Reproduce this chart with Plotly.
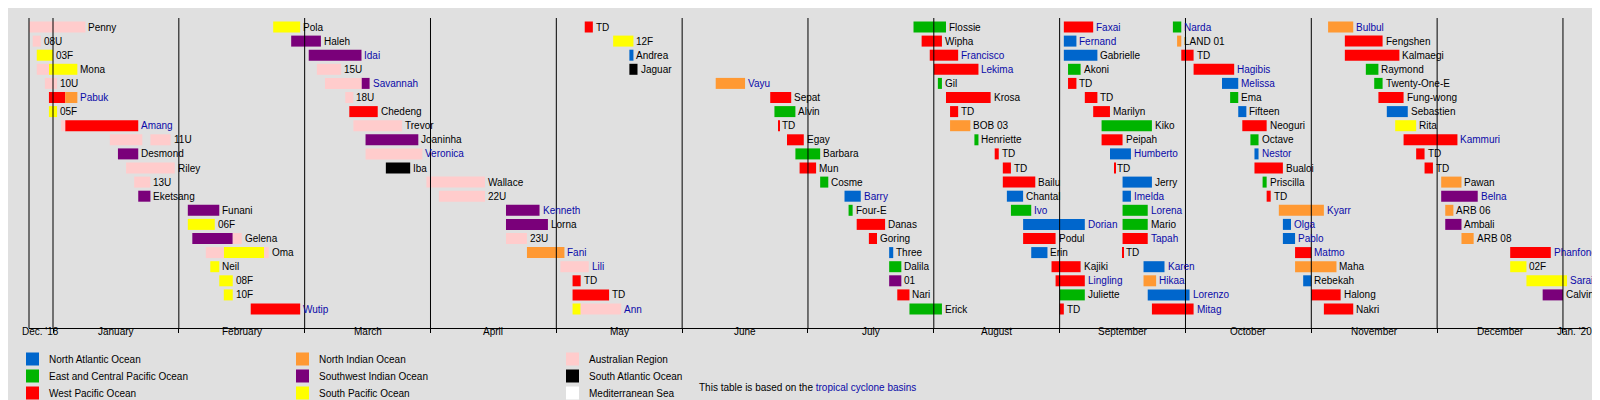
import calendar
import plotly.graph_objects as go

# one entry per bar segment; "" = continuation segment without its own label
names = [
    # row 0
    "Penny", "Pola", "TD", "Flossie", "Faxai", "Narda", "Bulbul",
    # row 1
    "08U", "Haleh", "12F", "Wipha", "Fernand", "LAND 01", "Fengshen",
    # row 2
    "03F", "Idai", "Andrea", "Francisco", "Gabrielle", "TD", "Kalmaegi",
    # row 3
    "", "Mona", "15U", "Jaguar", "Lekima", "Akoni", "Hagibis", "Raymond",
    # row 4
    "10U", "", "Savannah", "Vayu", "Gil", "TD", "Melissa", "Twenty-One-E",
    # row 5
    "", "Pabuk", "18U", "Sepat", "Krosa", "TD", "Ema", "Fung-wong",
    # row 6
    "05F", "Chedeng", "Alvin", "TD", "Marilyn", "Fifteen", "Sebastien",
    # row 7
    "", "Amang", "Trevor", "TD", "BOB 03", "Kiko", "Neoguri", "Rita",
    # row 8
    "", "11U", "Joaninha", "Egay", "Henriette", "Peipah", "Octave", "Kammuri",
    # row 9
    "Desmond", "Veronica", "Barbara", "TD", "Humberto", "Nestor", "TD",
    # row 10
    "Riley", "Iba", "Mun", "TD", "TD", "Bualoi", "TD",
    # row 11
    "13U", "Wallace", "Cosme", "Bailu", "Jerry", "Priscilla", "Pawan",
    # row 12
    "Eketsang", "22U", "Barry", "Chantal", "Imelda", "TD", "Belna",
    # row 13
    "Funani", "Kenneth", "Four-E", "Ivo", "Lorena", "Kyarr", "ARB 06",
    # row 14
    "06F", "Lorna", "Danas", "Dorian", "Mario", "Olga", "Ambali",
    # row 15
    "", "Gelena", "23U", "Goring", "Podul", "Tapah", "Pablo", "ARB 08",
    # row 16
    "", "", "Oma", "Fani", "Three", "Erin", "TD", "Matmo", "Phanfone",
    # row 17
    "Neil", "Lili", "Dalila", "Kajiki", "Karen", "Maha", "02F",
    # row 18
    "08F", "TD", "01", "Lingling", "Hikaa", "Rebekah", "Sarai",
    # row 19
    "10F", "TD", "Nari", "Juliette", "Lorenzo", "Halong", "Calvinia",
    # row 20
    "Wutip", "", "Ann", "Erick", "TD", "Mitag", "Nakri",
]
rows = ([0] * 7 + [1] * 7 + [2] * 7 + [3] * 8 + [4] * 8 + [5] * 8 + [6] * 7
        + [7] * 8 + [8] * 8 + [9] * 7 + [10] * 7 + [11] * 7 + [12] * 7 + [13] * 7
        + [14] * 7 + [15] * 8 + [16] * 9 + [17] * 7 + [18] * 7 + [19] * 7 + [20] * 7)
starts = [
    "2018-12-26", "2019-02-22", "2019-05-08", "2019-07-27", "2019-09-02", "2019-09-28", "2019-11-05",
    "2018-12-27", "2019-02-26", "2019-05-15", "2019-07-29", "2019-09-02", "2019-09-29", "2019-11-09",
    "2018-12-28", "2019-03-02", "2019-05-19", "2019-07-31", "2019-09-02", "2019-09-30", "2019-11-09",
    "2018-12-28", "2018-12-31", "2019-03-04", "2019-05-19", "2019-08-01", "2019-09-03", "2019-10-03", "2019-11-14",
    "2018-12-30", "2019-03-06", "2019-03-15", "2019-06-09", "2019-08-02", "2019-09-03", "2019-10-10", "2019-11-16",
    "2018-12-31", "2019-01-04", "2019-03-11", "2019-06-22", "2019-08-04", "2019-09-07", "2019-10-12", "2019-11-17",
    "2018-12-31", "2019-03-12", "2019-06-23", "2019-08-05", "2019-09-09", "2019-10-14", "2019-11-19",
    "2019-01-03", "2019-01-04", "2019-03-13", "2019-06-24", "2019-08-05", "2019-09-11", "2019-10-15", "2019-11-21",
    "2019-01-15", "2019-01-25", "2019-03-16", "2019-06-26", "2019-08-11", "2019-09-11", "2019-10-17", "2019-11-23",
    "2019-01-17", "2019-03-16", "2019-06-28", "2019-08-16", "2019-09-13", "2019-10-18", "2019-11-26",
    "2019-01-19", "2019-03-21", "2019-06-29", "2019-08-18", "2019-09-14", "2019-10-18", "2019-11-28",
    "2019-01-21", "2019-03-31", "2019-07-04", "2019-08-18", "2019-09-16", "2019-10-20", "2019-12-02",
    "2019-01-22", "2019-04-03", "2019-07-10", "2019-08-19", "2019-09-16", "2019-10-21", "2019-12-02",
    "2019-02-03", "2019-04-19", "2019-07-11", "2019-08-20", "2019-09-16", "2019-10-24", "2019-12-03",
    "2019-02-03", "2019-04-19", "2019-07-13", "2019-08-23", "2019-09-16", "2019-10-25", "2019-12-03",
    "2019-02-04", "2019-02-13", "2019-04-19", "2019-07-16", "2019-08-23", "2019-09-16", "2019-10-25", "2019-12-07",
    "2019-02-07", "2019-02-11", "2019-02-20", "2019-04-24", "2019-07-21", "2019-08-25", "2019-09-16", "2019-10-28", "2019-12-19",
    "2019-02-08", "2019-05-02", "2019-07-21", "2019-08-30", "2019-09-21", "2019-10-28", "2019-12-19",
    "2019-02-10", "2019-05-05", "2019-07-21", "2019-08-31", "2019-09-21", "2019-10-30", "2019-12-23",
    "2019-02-11", "2019-05-05", "2019-07-23", "2019-09-01", "2019-09-22", "2019-11-01", "2019-12-27",
    "2019-02-17", "2019-05-05", "2019-05-07", "2019-07-26", "2019-09-01", "2019-09-23", "2019-11-04",
]
ends = [
    "2019-01-09", "2019-02-28", "2019-05-10", "2019-08-04", "2019-09-09", "2019-09-30", "2019-11-11",
    "2018-12-29", "2019-03-05", "2019-05-20", "2019-08-03", "2019-09-05", "2019-09-30", "2019-11-18",
    "2019-01-01", "2019-03-15", "2019-05-20", "2019-08-07", "2019-09-10", "2019-10-03", "2019-11-22",
    "2018-12-31", "2019-01-07", "2019-03-10", "2019-05-21", "2019-08-12", "2019-09-06", "2019-10-13", "2019-11-17",
    "2019-01-02", "2019-03-15", "2019-03-17", "2019-06-16", "2019-08-03", "2019-09-05", "2019-10-14", "2019-11-18",
    "2019-01-04", "2019-01-07", "2019-03-13", "2019-06-27", "2019-08-15", "2019-09-10", "2019-10-14", "2019-11-23",
    "2019-01-02", "2019-03-19", "2019-06-28", "2019-08-07", "2019-09-13", "2019-10-16", "2019-11-24",
    "2019-01-04", "2019-01-22", "2019-03-25", "2019-06-24", "2019-08-10", "2019-09-23", "2019-10-21", "2019-11-26",
    "2019-01-23", "2019-01-30", "2019-03-29", "2019-06-30", "2019-08-12", "2019-09-16", "2019-10-19", "2019-12-06",
    "2019-01-22", "2019-03-30", "2019-07-04", "2019-08-17", "2019-09-18", "2019-10-19", "2019-11-28",
    "2019-01-31", "2019-03-27", "2019-07-03", "2019-08-20", "2019-09-14", "2019-10-25", "2019-11-30",
    "2019-01-25", "2019-04-14", "2019-07-06", "2019-08-26", "2019-09-23", "2019-10-21", "2019-12-07",
    "2019-01-25", "2019-04-14", "2019-07-14", "2019-08-23", "2019-09-18", "2019-10-22", "2019-12-11",
    "2019-02-10", "2019-04-27", "2019-07-12", "2019-08-25", "2019-09-22", "2019-11-04", "2019-12-05",
    "2019-02-09", "2019-04-29", "2019-07-20", "2019-09-07", "2019-09-22", "2019-10-27", "2019-12-07",
    "2019-02-13", "2019-02-15", "2019-04-24", "2019-07-18", "2019-08-31", "2019-09-22", "2019-10-28", "2019-12-10",
    "2019-02-11", "2019-02-20", "2019-02-21", "2019-05-03", "2019-07-22", "2019-08-29", "2019-09-16", "2019-11-01", "2019-12-29",
    "2019-02-10", "2019-05-09", "2019-07-24", "2019-09-06", "2019-09-26", "2019-11-07", "2019-12-23",
    "2019-02-13", "2019-05-07", "2019-07-24", "2019-09-07", "2019-09-24", "2019-11-01", "2020-01-02",
    "2019-02-13", "2019-05-14", "2019-07-26", "2019-09-07", "2019-10-02", "2019-11-08", "2020-01-01",
    "2019-02-28", "2019-05-07", "2019-05-17", "2019-08-03", "2019-09-02", "2019-10-03", "2019-11-11",
]
basins = [
    "AUS", "SPO", "WP", "EP", "WP", "EP", "NI",
    "AUS", "SWI", "SPO", "WP", "NA", "NI", "WP",
    "SPO", "SWI", "NA", "WP", "NA", "WP", "WP",
    "AUS", "SPO", "AUS", "SATL", "WP", "EP", "WP", "EP",
    "AUS", "AUS", "SWI", "NI", "EP", "WP", "NA", "EP",
    "WP", "NI", "AUS", "WP", "WP", "WP", "EP", "WP",
    "SPO", "WP", "EP", "WP", "WP", "NA", "NA",
    "AUS", "WP", "AUS", "WP", "NI", "EP", "WP", "SPO",
    "AUS", "AUS", "SWI", "WP", "EP", "WP", "EP", "WP",
    "SWI", "AUS", "EP", "WP", "NA", "NA", "WP",
    "AUS", "SATL", "WP", "WP", "WP", "WP", "WP",
    "AUS", "AUS", "EP", "WP", "NA", "EP", "NI",
    "SWI", "AUS", "NA", "NA", "NA", "WP", "SWI",
    "SWI", "SWI", "EP", "EP", "EP", "NI", "NI",
    "SPO", "SWI", "WP", "NA", "EP", "NA", "SWI",
    "SWI", "AUS", "AUS", "WP", "WP", "WP", "NA", "NI",
    "AUS", "SPO", "AUS", "NI", "NA", "NA", "WP", "WP", "WP",
    "SPO", "AUS", "EP", "WP", "NA", "NI", "SPO",
    "SPO", "WP", "SWI", "WP", "NI", "NA", "SPO",
    "SPO", "WP", "WP", "EP", "NA", "WP", "SWI",
    "WP", "SPO", "AUS", "EP", "WP", "WP", "WP",
]
linked = ["Pabuk", "Amang", "Wutip", "Idai", "Savannah", "Veronica", "Kenneth", "Fani",
          "Lili", "Ann", "Vayu", "Barry", "Francisco", "Lekima", "Faxai", "Fernand",
          "Dorian", "Ivo", "Lingling", "Humberto", "Imelda", "Lorena", "Tapah", "Karen",
          "Hikaa", "Lorenzo", "Mitag", "Narda", "Hagibis", "Melissa", "Nestor", "Kyarr",
          "Olga", "Pablo", "Matmo", "Bulbul", "Kammuri", "Belna", "Phanfone", "Sarai"]

basin_codes = ["NA", "EP", "WP", "NI", "SWI", "SPO", "AUS", "SATL", "MED"]
basin_labels = ["North Atlantic Ocean", "East and Central Pacific Ocean", "West Pacific Ocean",
                "North Indian Ocean", "Southwest Indian Ocean", "South Pacific Ocean",
                "Australian Region", "South Atlantic Ocean", "Mediterranean Sea"]
basin_colors = ["#0066cc", "#00b400", "#ff0000", "#ff9933", "#7a007a", "#ffff00",
                "#ffcccc", "#000000", "#ffffff"]

month_names = ["January", "February", "March", "April", "May", "June", "July",
               "August", "September", "October", "November", "December"]

BG = "#e0e0e0"
LINK = "#0a0aa8"
FONT = "Liberation Sans, Arial, sans-serif"
FS = 10


def mpos(s):
    # equal-width months, like the source timeline
    y, mo, d = map(int, s.split("-"))
    nd = calendar.monthrange(y, mo)[1]
    return (y - 2019) * 12 + mo - 1 + (d - 1) / nd


# plot area in pixels
L, R, T, B = 21, 1580, 10, 320


def px(xp):
    return (xp - L) / (R - L)


def py(yp):
    return (B - yp) / (B - T)


fig = go.Figure()
for code, col in zip(basin_codes, basin_colors):
    idx = [i for i, b in enumerate(basins) if b == code]
    if not idx:
        continue
    b0 = [mpos(starts[i]) for i in idx]
    w = [max(mpos(ends[i]) - mpos(starts[i]), 0.008) for i in idx]
    fig.add_trace(go.Bar(
        y=[rows[i] for i in idx], x=w, base=b0, orientation="h", width=0.78,
        marker=dict(color=col, line=dict(width=0)), showlegend=False, hoverinfo="skip",
    ))

for n, r, e in zip(names, rows, ends):
    if not n:
        continue
    fig.add_annotation(
        x=mpos(e), y=r, text=n, showarrow=False, xanchor="left", yanchor="middle",
        xshift=1, font=dict(size=FS, color=LINK if n in linked else "black", family=FONT),
    )

# month separators
for m in range(13):
    fig.add_shape(type="line", x0=m, x1=m, y0=0, y1=1, yref="paper",
                  line=dict(color="black", width=1))
fig.add_shape(type="line", x0=0, x1=0, xref="paper", y0=0, y1=1, yref="paper",
              line=dict(color="black", width=1))

# month labels
for i, mn in enumerate(month_names):
    fig.add_annotation(x=i + 0.5, y=py(331), yref="paper", text=mn, showarrow=False,
                       font=dict(size=FS, color="black", family=FONT))
fig.add_annotation(x=-0.1, y=py(331), yref="paper", text="Dec. '18", showarrow=False,
                   font=dict(size=FS, color="black", family=FONT))
fig.add_annotation(x=12.09, y=py(331), yref="paper", text="Jan. '20", showarrow=False,
                   font=dict(size=FS, color="black", family=FONT))

# legend, three columns
col_x = [18, 288, 558]
row_y = [351, 368, 385]
for k, (lab, col) in enumerate(zip(basin_labels, basin_colors)):
    cx, ry = col_x[k // 3], row_y[k % 3]
    fig.add_shape(type="rect", xref="paper", yref="paper",
                  x0=px(cx), x1=px(cx + 13), y0=py(ry - 6.5), y1=py(ry + 6.5),
                  fillcolor=col, line=dict(width=0))
    fig.add_annotation(xref="paper", yref="paper", x=px(cx + 21), y=py(ry), text=lab,
                       showarrow=False, xanchor="left", yanchor="middle",
                       font=dict(size=FS, color="black", family=FONT))
fig.add_annotation(xref="paper", yref="paper", x=px(689), y=py(379),
                   text="This table is based on the <span style='color:%s'>tropical cyclone basins</span>" % LINK,
                   showarrow=False, xanchor="left", yanchor="middle",
                   font=dict(size=FS, color="black", family=FONT))

fig.update_layout(
    width=1600, height=400, margin=dict(l=L, r=1600 - R, t=T, b=400 - B),
    paper_bgcolor=BG, plot_bgcolor=BG, barmode="overlay",
    xaxis=dict(range=[(L - 45) / 125.83, (R - 45) / 125.83], tickvals=list(range(13)),
               ticktext=[""] * 13, ticks="outside", ticklen=4, tickcolor="black",
               showgrid=False, zeroline=False, showline=True, linecolor="black",
               fixedrange=True),
    yaxis=dict(range=[(B - 19) / 14.1, (T - 19) / 14.1], showticklabels=False,
               showgrid=False, zeroline=False, fixedrange=True),
)

fig.write_html("out.html")
